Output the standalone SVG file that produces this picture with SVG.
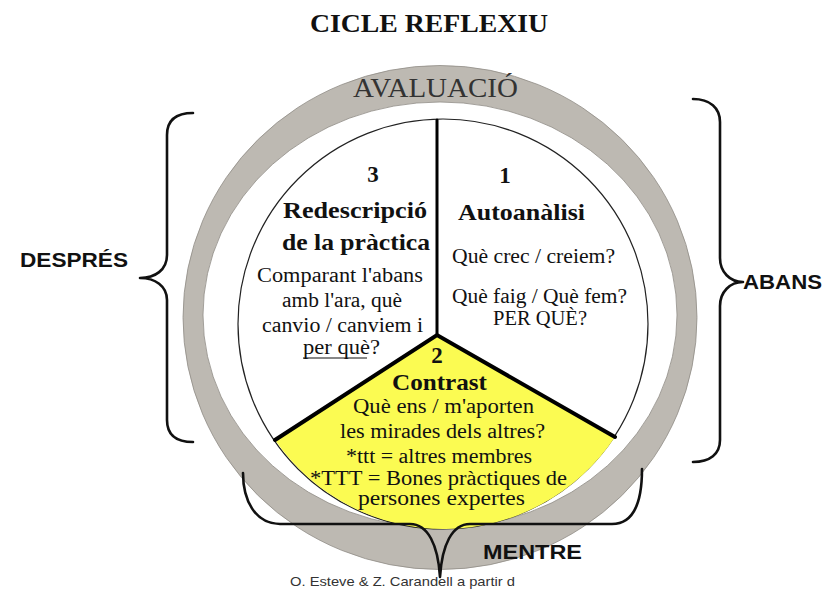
<svg xmlns="http://www.w3.org/2000/svg" width="830" height="589" viewBox="0 0 830 589">
<style>
.ser{font-family:"Liberation Serif","Times New Roman",serif;fill:#111}
.b{font-weight:bold}
.reg{font-size:20px}
.hd{font-size:23px;font-weight:bold}
.san{font-family:"Liberation Sans",Arial,sans-serif;font-weight:bold;font-size:20px;fill:#111}
.brace{fill:none;stroke:#111;stroke-width:2.6;stroke-linecap:round;stroke-linejoin:round}
.div{fill:none;stroke:#000;stroke-linecap:round}
</style>
<rect width="830" height="589" fill="#fff"/>
<g id="title">
<text class="ser b" x="310" y="32" font-size="25" textLength="238" lengthAdjust="spacingAndGlyphs">CICLE REFLEXIU</text>
</g>
<g id="avaluacio">
<path d="M 183 317.5 A 257 252 0 1 0 697 317.5 A 257 252 0 1 0 183 317.5 Z M 203 315 A 237 213 0 1 0 677 315 A 237 213 0 1 0 203 315 Z" fill="#bdb9b2" fill-rule="evenodd" stroke="#8f8b85" stroke-width="0.8"/>
<text class="ser" x="353" y="97" font-size="27" fill="#333" style="fill:#333" textLength="165" lengthAdjust="spacingAndGlyphs">AVALUACIÓ</text>
</g>
<g id="cycle">
<circle cx="443" cy="324" r="205" fill="#fff" stroke="#222" stroke-width="1.2"/>
<path d="M 437 335 L 275 440 A 205 205 0 0 0 615 437 Z" fill="#fbfb52"/>
</g>
<g id="dividers">
<path class="div" d="M 437 120 L 437 335" stroke-width="3"/>
<path class="div" d="M 275 440 L 437 335 L 615 437" stroke-width="4"/>
</g>
<g id="node-3">
<text class="ser hd" x="373" y="182" text-anchor="middle">3</text>
<text class="ser hd" x="283" y="218" textLength="144" lengthAdjust="spacingAndGlyphs">Redescripció</text>
<text class="ser hd" x="282" y="250" textLength="148" lengthAdjust="spacingAndGlyphs">de la pràctica</text>
<text class="ser reg" x="257" y="282" textLength="166" lengthAdjust="spacingAndGlyphs">Comparant l'abans</text>
<text class="ser reg" x="282" y="307" textLength="120" lengthAdjust="spacingAndGlyphs">amb l'ara, què</text>
<text class="ser reg" x="262" y="332" textLength="161" lengthAdjust="spacingAndGlyphs">canvio / canviem i</text>
<text class="ser reg" x="303" y="354" textLength="77" lengthAdjust="spacingAndGlyphs">per què?</text>
<line x1="303" y1="358" x2="367" y2="358" stroke="#111" stroke-width="1.2"/>
</g>
<g id="node-1">
<text class="ser hd" x="505" y="183" text-anchor="middle">1</text>
<text class="ser hd" x="458" y="220" textLength="127" lengthAdjust="spacingAndGlyphs">Autoanàlisi</text>
<text class="ser reg" x="452" y="263" textLength="163" lengthAdjust="spacingAndGlyphs">Què crec / creiem?</text>
<text class="ser reg" x="452" y="303" textLength="175" lengthAdjust="spacingAndGlyphs">Què faig / Què fem?</text>
<text class="ser reg" x="493" y="325" textLength="94" lengthAdjust="spacingAndGlyphs">PER QUÈ?</text>
</g>
<g id="node-2">
<text class="ser hd" x="437" y="363" text-anchor="middle">2</text>
<text class="ser hd" x="392" y="390" textLength="95" lengthAdjust="spacingAndGlyphs">Contrast</text>
<text class="ser reg" x="353" y="413" textLength="181" lengthAdjust="spacingAndGlyphs">Què ens / m'aporten</text>
<text class="ser reg" x="340" y="438" textLength="205" lengthAdjust="spacingAndGlyphs">les mirades dels altres?</text>
<text class="ser reg" x="346" y="463" textLength="186" lengthAdjust="spacingAndGlyphs">*ttt = altres membres</text>
<text class="ser reg" x="310" y="485" textLength="257" lengthAdjust="spacingAndGlyphs">*TTT = Bones pràctiques de</text>
<text class="ser reg" x="358" y="505" textLength="167" lengthAdjust="spacingAndGlyphs">persones expertes</text>
</g>
<g id="connectors">
<path class="brace" d="M 193 113 C 176 113, 167 120, 167 135 L 167 255 C 167 270, 155 278, 140 278 C 155 278, 167 286, 167 300 L 167 420 C 167 435, 176 442, 193 442"/>
<path class="brace" d="M 693 99 C 710 99, 720 108, 720 122 L 720 258 C 720 272, 730 282, 743 282 C 730 282, 720 292, 720 306 L 720 440 C 720 454, 710 462, 693 462"/>
<path class="brace" d="M 243 473 C 243 500, 255 524, 280 524 L 410 524 C 428 524, 438 545, 440 577 C 442 545, 452 524, 470 524 L 612 524 C 635 524, 642 500, 642 469"/>
</g>
<g id="label-despres">
<text class="san" x="20" y="267" textLength="108" lengthAdjust="spacingAndGlyphs">DESPRÉS</text>
</g>
<g id="label-abans">
<text class="san" x="743" y="289" textLength="79" lengthAdjust="spacingAndGlyphs">ABANS</text>
</g>
<g id="label-mentre">
<text class="san" x="483" y="559" textLength="99" lengthAdjust="spacingAndGlyphs">MENTRE</text>
</g>
<g id="credit">
<text x="290" y="586" font-family="Liberation Sans, Arial, sans-serif" font-size="13" fill="#333" textLength="225" lengthAdjust="spacingAndGlyphs">O. Esteve &amp; Z. Carandell a partir d</text>
</g>
</svg>
